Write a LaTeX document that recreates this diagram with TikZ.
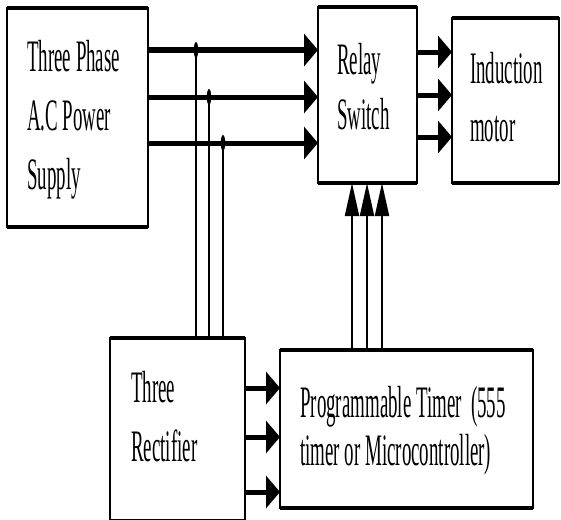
\documentclass[tikz,border=0pt]{standalone}
\usepackage{fontspec}
\newfontfamily\cf[FakeStretch=0.42]{Liberation Serif}
\usetikzlibrary{arrows.meta}
\begin{document}
\begin{tikzpicture}[x=1pt,y=-1pt,
  box/.style={draw,rectangle,line width=2pt,inner sep=0pt,outer sep=0pt},
  lbl/.style={anchor=base west,inner sep=0pt,font=\cf\fontsize{45}{45}\selectfont},
  harrow/.style={line width=5pt,-{Triangle[length=14pt,width=32pt]}},
  varrow/.style={line width=2pt,-{Triangle[length=33pt,width=14pt]}},
  tap/.style={line width=2pt},
  edge/.style={line width=3.5pt}]
\useasboundingbox (0,0) rectangle (561,519);
% boxes
\node[box,minimum width=141pt,minimum height=219pt] (supply) at (77.5,117.5) {};
\node[box,minimum width=99pt,minimum height=176pt] (relay) at (367.5,95) {};
\node[box,minimum width=107pt,minimum height=165pt] (motor) at (505.5,100.5) {};
\node[box,minimum width=135pt,minimum height=183pt] (rect) at (177.5,429.5) {};
\node[box,minimum width=253pt,minimum height=158pt] (timer) at (406.5,429) {};
\foreach \n in {supply,relay,motor,rect,timer}{
  \draw[edge] (\n.north west) -- (\n.north east);
  \draw[edge] (\n.south west) -- (\n.south east);
}
% labels
\node[lbl] (l1) at (27,71) {Three Phase};
\node[lbl] (l2) at (27,130) {A.C Power};
\node[lbl] (l3) at (27,189) {Supply};
\node[lbl] (l4) at (337,74) {Relay};
\node[lbl] (l5) at (337,129) {Switch};
\node[lbl] (l6) at (470,83) {Induction};
\node[lbl] (l7) at (470,141) {motor};
\node[lbl] (l8) at (131,402) {Three};
\node[lbl] (l9) at (131,461) {Rectifier};
\node[lbl] (l10) at (300,417) {Programmable Timer\ \ (555};
\node[lbl] (l11) at (300,465) {timer or Microcontroller)};
% helper coordinates
\coordinate (ya) at (0,50);
\coordinate (yb) at (0,97);
\coordinate (yc) at (0,143);
\coordinate (ma) at (0,52);
\coordinate (mb) at (0,95);
\coordinate (mc) at (0,137);
\coordinate (ra) at (0,388);
\coordinate (rb) at (0,437);
\coordinate (rc) at (0,492);
\coordinate (xa) at (352,0);
\coordinate (xb) at (367,0);
\coordinate (xc) at (382,0);
\coordinate (ta) at (196,50);
\coordinate (tb) at (209,97);
\coordinate (tc) at (223,143);
% supply -> relay
\foreach \y in {ya,yb,yc}
  \draw[harrow] (supply.east |- \y) -- (relay.west |- \y);
% relay -> motor
\foreach \y in {ma,mb,mc}
  \draw[harrow] (relay.east |- \y) -- (motor.west |- \y);
% rectifier -> timer
\foreach \y in {ra,rb,rc}
  \draw[harrow] (rect.east |- \y) -- (timer.west |- \y);
% timer -> relay
\foreach \x in {xa,xb,xc}
  \draw[varrow] (timer.north -| \x) -- (relay.south -| \x);
% taps from supply lines to rectifier
\foreach \t in {ta,tb,tc}{
  \draw[tap] (\t) -- (\t |- rect.north);
  \fill (\t) ellipse (2.2pt and 8pt);
}
\end{tikzpicture}
\end{document}
